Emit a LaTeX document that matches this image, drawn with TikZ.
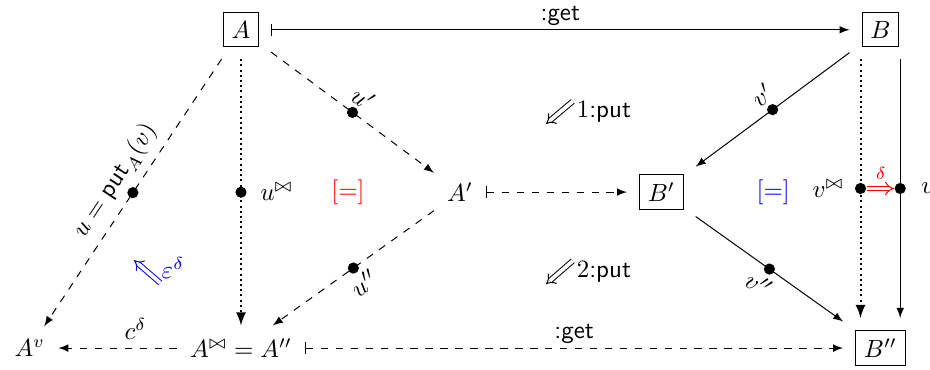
\documentclass[tikz,border=0pt]{standalone}
\usepackage{amsmath}
\usetikzlibrary{arrows.meta}

\tikzset{
  box/.style={draw, outer sep=5pt},
  obj/.style={outer sep=2pt},
  bullet/.style={circle, fill, inner sep=0pt, minimum size=4.5pt},
  twocell/.style={double, double distance=1.5pt, -{Implies}},
  dots/.style={dash pattern=on 0.8pt off 1.3pt, line width=0.8pt},
  getlbl/.style={above, inner sep=1.5pt},
}

\begin{document}
\begin{tikzpicture}[>=latex]
  \useasboundingbox (0,0) rectangle (13.12,-5.21);

  % objects
  \node[box] (A) at (3.40,-0.42) {$A$};
  \node[box] (B) at (12.42,-0.42) {$B$};
  \node[obj] (A1) at (6.49,-2.71) {$A'$};
  \node[box] (B1) at (9.33,-2.71) {$B'$};
  \node[obj] (Av) at (0.42,-4.91) {$A^v$};
  \node[obj] (A2) at (3.40,-4.91) {$A^{\bowtie} = A''$};
  \node[box] (B2) at (12.42,-4.91) {$B''$};

  % get arrows
  \draw[|->] (A) -- node[getlbl] {\textsf{:get}} (B);
  \draw[|->, dashed] (A1) -- (B1);
  \draw[|->, dashed] (A2) -- node[getlbl] {\textsf{:get}} (B2);

  % left half
  \draw[->, dashed] (A) -- node[bullet] {} node[above, sloped] {$u = \mathsf{put}_A(v)$} (Av);
  \draw[->, dots] (A) -- node[bullet] {} node[right=4pt] {$u^{\bowtie}$} (A2);
  \draw[->, dashed] (A) -- node[bullet] {} node[above, sloped] {$u'$} (A1);
  \draw[->, dashed] (A1) -- node[bullet] {} node[below, sloped] {$u''$} (A2);
  \draw[->, dashed] (A2) -- node[above, pos=0.35] {$c^{\delta}$} (Av);

  % right half
  \draw[->] (B) -- node[bullet] {} node[above, sloped] {$v'$} (B1);
  \draw[->] (B1) -- node[bullet] {} node[below, sloped] {$v''$} (B2);
  \draw[->, dots] ([xshift=-0.28cm]B.south) -- node[bullet] (vj) {} node[left=3pt] {$v^{\bowtie}$} ([xshift=-0.28cm]B2.north);
  \draw[->] ([xshift=0.28cm]B.south) -- node[bullet] (vv) {} node[right=5pt] {$v$} ([xshift=0.28cm]B2.north);
  \draw[twocell, red] (vj) -- node[above] {$\scriptstyle\delta$} (vv);

  % cells
  \node[red] (eqL) at (4.91,-2.71) {$[=]$};
  \node[blue] (eqR) at (10.91,-2.71) {$[=]$};

  \coordinate (p1s) at (8.08,-1.43);
  \coordinate (p1e) at (7.70,-1.75);
  \draw[twocell] (p1s) -- (p1e);
  \node (put1) at (8.52,-1.58) {$1$\textsf{:put}};

  \coordinate (p2s) at (8.08,-3.68);
  \coordinate (p2e) at (7.70,-4.01);
  \draw[twocell] (p2s) -- (p2e);
  \node (put2) at (8.52,-3.84) {$2$\textsf{:put}};

  \coordinate (es) at (2.26,-3.99);
  \coordinate (ee) at (1.89,-3.67);
  \draw[twocell, blue] (es) -- (ee);
  \node[blue] (eps) at (2.44,-3.78) {$\varepsilon^{\delta}$};
\end{tikzpicture}
\end{document}
